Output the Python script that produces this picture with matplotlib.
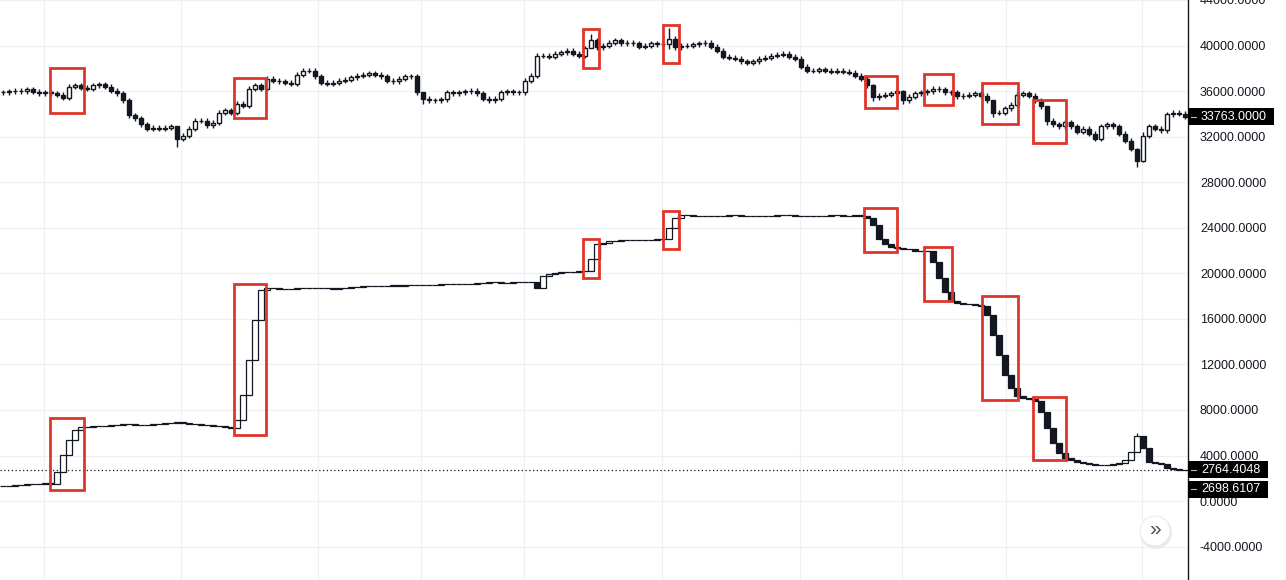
import matplotlib
matplotlib.use("Agg")
import matplotlib.pyplot as plt
from matplotlib.patches import Rectangle, Circle
from matplotlib.lines import Line2D
from matplotlib.transforms import IdentityTransform
import matplotlib.ticker as mticker

plt.rcParams["font.family"] = ["Liberation Sans", "DejaVu Sans"]

# ── Data ─────────────────────────────────────────────────────────────────
PRICE_OPEN0 = 35900
PRICE_CLOSE = [
    35900, 36000, 36050, 36000, 36150, 35950, 35800, 35900, 35800, 35700,
    35400, 36400, 36500, 36300, 36200, 36500, 36600, 36400, 36050, 35800,
    35200, 33900, 33600, 33100, 32700, 32800, 32700, 32800, 32900, 31800,
    32100, 32700, 33400, 33400, 33000, 33200, 34100, 34300, 34100, 34900,
    34700, 36200, 36500, 36200, 37100, 36900, 36850, 36750, 36650, 37450,
    37800, 37800, 37300, 36750, 36650, 36750, 36900, 37000, 37200, 37350,
    37450, 37550, 37450, 37300, 36900, 36850, 37100, 37300, 37300, 35900,
    35350, 35200, 35200, 35300, 35900, 35800, 35900, 36000, 36050, 35800,
    35350, 35200, 35350, 35900, 36000, 35900, 35900, 36900, 37350, 39100,
    39100, 39000, 39300, 39400, 39550, 39300, 39100, 39750, 40450, 39850,
    40000, 40250, 40450, 40200, 40250, 40200, 39900, 40000, 40200, 40100,
    40100, 40600, 39850, 40000, 40000, 40100, 40200, 40250, 39900, 39550,
    39000, 38950, 38850, 38600, 38500, 38600, 38850, 38950, 39100, 39200,
    39300, 39000, 38850, 38150, 37800, 37800, 37900, 37800, 37700, 37800,
    37700, 37600, 37350, 37100, 36500, 35450, 35600, 35700, 35800, 36050,
    35200, 35500, 35800, 35900, 36000, 36200, 36150, 35900, 35900, 35550,
    35600, 35700, 35800, 35600, 35200, 34100, 34100, 34500, 34800, 35700,
    35800, 35600, 35200, 34650, 33400, 33100, 32900, 33250, 32900, 32450,
    32700, 32250, 31800, 32900, 33100, 32900, 32250, 31650, 30950, 29900,
    32100, 32900, 32700, 32550, 33950, 34100, 34000, 33763,
]
# wick spikes: index -> (high, low)
PRICE_SPIKES = {29: (32300, 31050), 70: (35900, 34900), 98: (41050, 40000),
                111: (41500, 39700), 145: (36600, 35100), 150: (36100, 34900),
                165: (35200, 33700), 174: (34700, 33000), 189: (31000, 29300),
                190: (32400, 29800)}
PRICE_WICK = 220

EQ_OPEN0 = 1300
EQUITY = [
    1300, 1300, 1400, 1400, 1500, 1500, 1500, 1600, 1500, 2550,
    4050, 5350, 6250, 6500, 6500, 6600, 6600, 6600, 6650, 6700,
    6750, 6750, 6700, 6700, 6650, 6750, 6800, 6850, 6900, 6950,
    6850, 6800, 6750, 6700, 6650, 6600, 6550, 6500, 6450, 7100,
    9300, 12350, 15900, 18500, 18700, 18700, 18600, 18600, 18600, 18700,
    18700, 18750, 18750, 18700, 18700, 18650, 18700, 18750, 18800, 18800,
    18850, 18850, 18900, 18900, 18900, 18950, 18900, 18950, 19000, 18950,
    18950, 19000, 19000, 19050, 19050, 19100, 19100, 19100, 19100, 19150,
    19150, 19200, 19200, 19150, 19150, 19200, 19200, 19250, 19200, 18700,
    19750, 19900, 20000, 20100, 20100, 20150, 20200, 20200, 21300, 22550,
    22700, 22800, 22800, 22900, 22900, 22900, 22950, 22950, 22950, 23000,
    23000, 23950, 24850, 25100, 25100, 25050, 25050, 25000, 25000, 25050,
    25050, 25100, 25100, 25050, 25050, 25000, 25000, 25050, 25050, 25100,
    25100, 25100, 25050, 25050, 25000, 25000, 25050, 25050, 25100, 25100,
    25050, 25050, 25100, 25050, 24850, 24200, 23050, 22550, 22350, 22200,
    22100, 22100, 22000, 22000, 21950, 21000, 19550, 18350, 17550, 17350,
    17300, 17300, 17200, 17100, 16300, 14550, 12800, 11050, 9900, 9200,
    9050, 8950, 8750, 7800, 6400, 5100, 4200, 3750, 3600, 3400,
    3350, 3250, 3150, 3150, 3150, 3250, 3350, 3600, 4300, 5700,
    4650, 3400, 3350, 3250, 2900, 2800, 2764, 2764.4048,
]
EQ_SPIKES = {189: (5950, 4300)}

# highlighted regions: (index from, index to, value low, value high)
PRICE_BOXES = [(7.8, 13.5, 34120, 38070), (38.5, 43.8, 33680, 37190),
               (96.7, 99.3, 38070, 41490), (110.0, 112.7, 38510, 41840),
               (143.7, 149.0, 34560, 37370), (153.5, 158.3, 34740, 37460),
               (163.2, 169.2, 33070, 36750), (171.7, 177.2, 31400, 35180)]
EQ_BOXES = [(7.8, 13.5, 960, 7280), (38.5, 43.8, 5790, 19040),
            (96.7, 99.3, 19560, 22980), (110.0, 112.7, 22110, 25440),
            (143.5, 149.0, 21840, 25700), (153.5, 158.2, 17540, 22280),
            (163.2, 169.2, 8860, 17980), (171.7, 177.2, 3600, 9120)]

GRID_X = [6.83, 29.67, 52.5, 69.67, 86.83, 109.83, 132.83, 149.83, 167.17, 189.83]
Y_TICKS = list(range(-4000, 44001, 4000))

LAST_PRICE = 33763.0
LAST_EQ = 2764.4048
LAST_EQ2 = 2698.6107

# ── Chart ─────────────────────────────────────────────────────────────────
fig = plt.figure(figsize=(12.86, 5.8), dpi=100)
ax = fig.add_axes([0, 0, 1188 / 1286, 1])
ax.set_xlim(-0.5, len(PRICE_CLOSE) - 0.5)
ax.set_ylim(-6930, 43947)

INK = "#131722"
RED = "#e0352b"


def draw_candles(opens, closes, spikes, width, wick, lw):
    xs = range(len(closes))
    for i, o, c in zip(xs, opens, closes):
        hi, lo = max(o, c), min(o, c)
        if wick:
            h, l = spikes.get(i, (hi + wick, lo - wick))
            ax.vlines(i, l, h, color=INK, lw=lw, zorder=2)
        elif i in spikes:
            h, l = spikes[i]
            ax.vlines(i, l, h, color=INK, lw=lw, zorder=2)
        fc = "white" if c >= o else INK
        ax.bar(i, c - o, bottom=o, width=width, color=fc, edgecolor=INK,
               linewidth=lw, zorder=3)


draw_candles([PRICE_OPEN0] + PRICE_CLOSE[:-1], PRICE_CLOSE, PRICE_SPIKES, 0.62, PRICE_WICK, 1.0)
draw_candles([EQ_OPEN0] + EQUITY[:-1], EQUITY, EQ_SPIKES, 1.0, 0, 0.9)

ax.axhline(LAST_EQ, color=INK, ls=(0, (1, 2)), lw=0.9, zorder=1)

for x0, x1, y0, y1 in PRICE_BOXES + EQ_BOXES:
    ax.add_patch(Rectangle((x0, y0), x1 - x0, y1 - y0, fill=False,
                           edgecolor=RED, linewidth=2.0, zorder=5))

# grid & axis
ax.set_xticks(GRID_X)
ax.set_yticks(Y_TICKS)
ax.grid(True, color="#eef0f4", linewidth=0.9, zorder=0)
ax.set_axisbelow(True)
ax.yaxis.tick_right()
ax.yaxis.set_major_formatter(mticker.FuncFormatter(lambda v, _: f"{v:.4f}"))
ax.tick_params(axis="y", length=0, pad=8.6, labelsize=9, labelcolor=INK)
ax.tick_params(axis="x", length=0, labelbottom=False)
for s in ["top", "left", "bottom"]:
    ax.spines[s].set_visible(False)
ax.spines["right"].set_color(INK)
ax.spines["right"].set_linewidth(1.0)


# price tags on the scale (pixel coordinates derived from data values)
def price_tag(value, text, width, shift=0):
    x0, yc = ax.transData.transform((ax.get_xlim()[1], value))
    yc += shift
    fig.add_artist(Rectangle((x0, yc - 8.5), width, 17, transform=IdentityTransform(),
                             facecolor="black", edgecolor="none", zorder=10))
    fig.add_artist(Line2D([x0 + 3, x0 + 8], [yc, yc], transform=IdentityTransform(),
                          color="#bbbbbb", lw=0.8, zorder=11))
    fig.text(x0 + 13, yc, text, transform=IdentityTransform(), color="white",
             fontsize=9, va="center", ha="left", zorder=12)


price_tag(LAST_PRICE, f"{LAST_PRICE:.4f}", 86)
price_tag(LAST_EQ, f"{LAST_EQ:.4f}", 80)
price_tag(LAST_EQ2, f"{LAST_EQ2:.4f}", 80, shift=-19)

# scroll-to-latest button
fig.add_artist(Circle((1156, 47), 16, transform=IdentityTransform(),
                      facecolor="#e9ebf0", edgecolor="none", zorder=10))
fig.add_artist(Circle((1155, 49), 15, transform=IdentityTransform(),
                      facecolor="white", edgecolor="#e3e6ec", lw=0.6, zorder=11))
fig.text(1155, 50, "»", transform=IdentityTransform(), color="#50535e",
         fontsize=15, ha="center", va="center", zorder=12)

fig.savefig("out.png", dpi=100, facecolor="white")
